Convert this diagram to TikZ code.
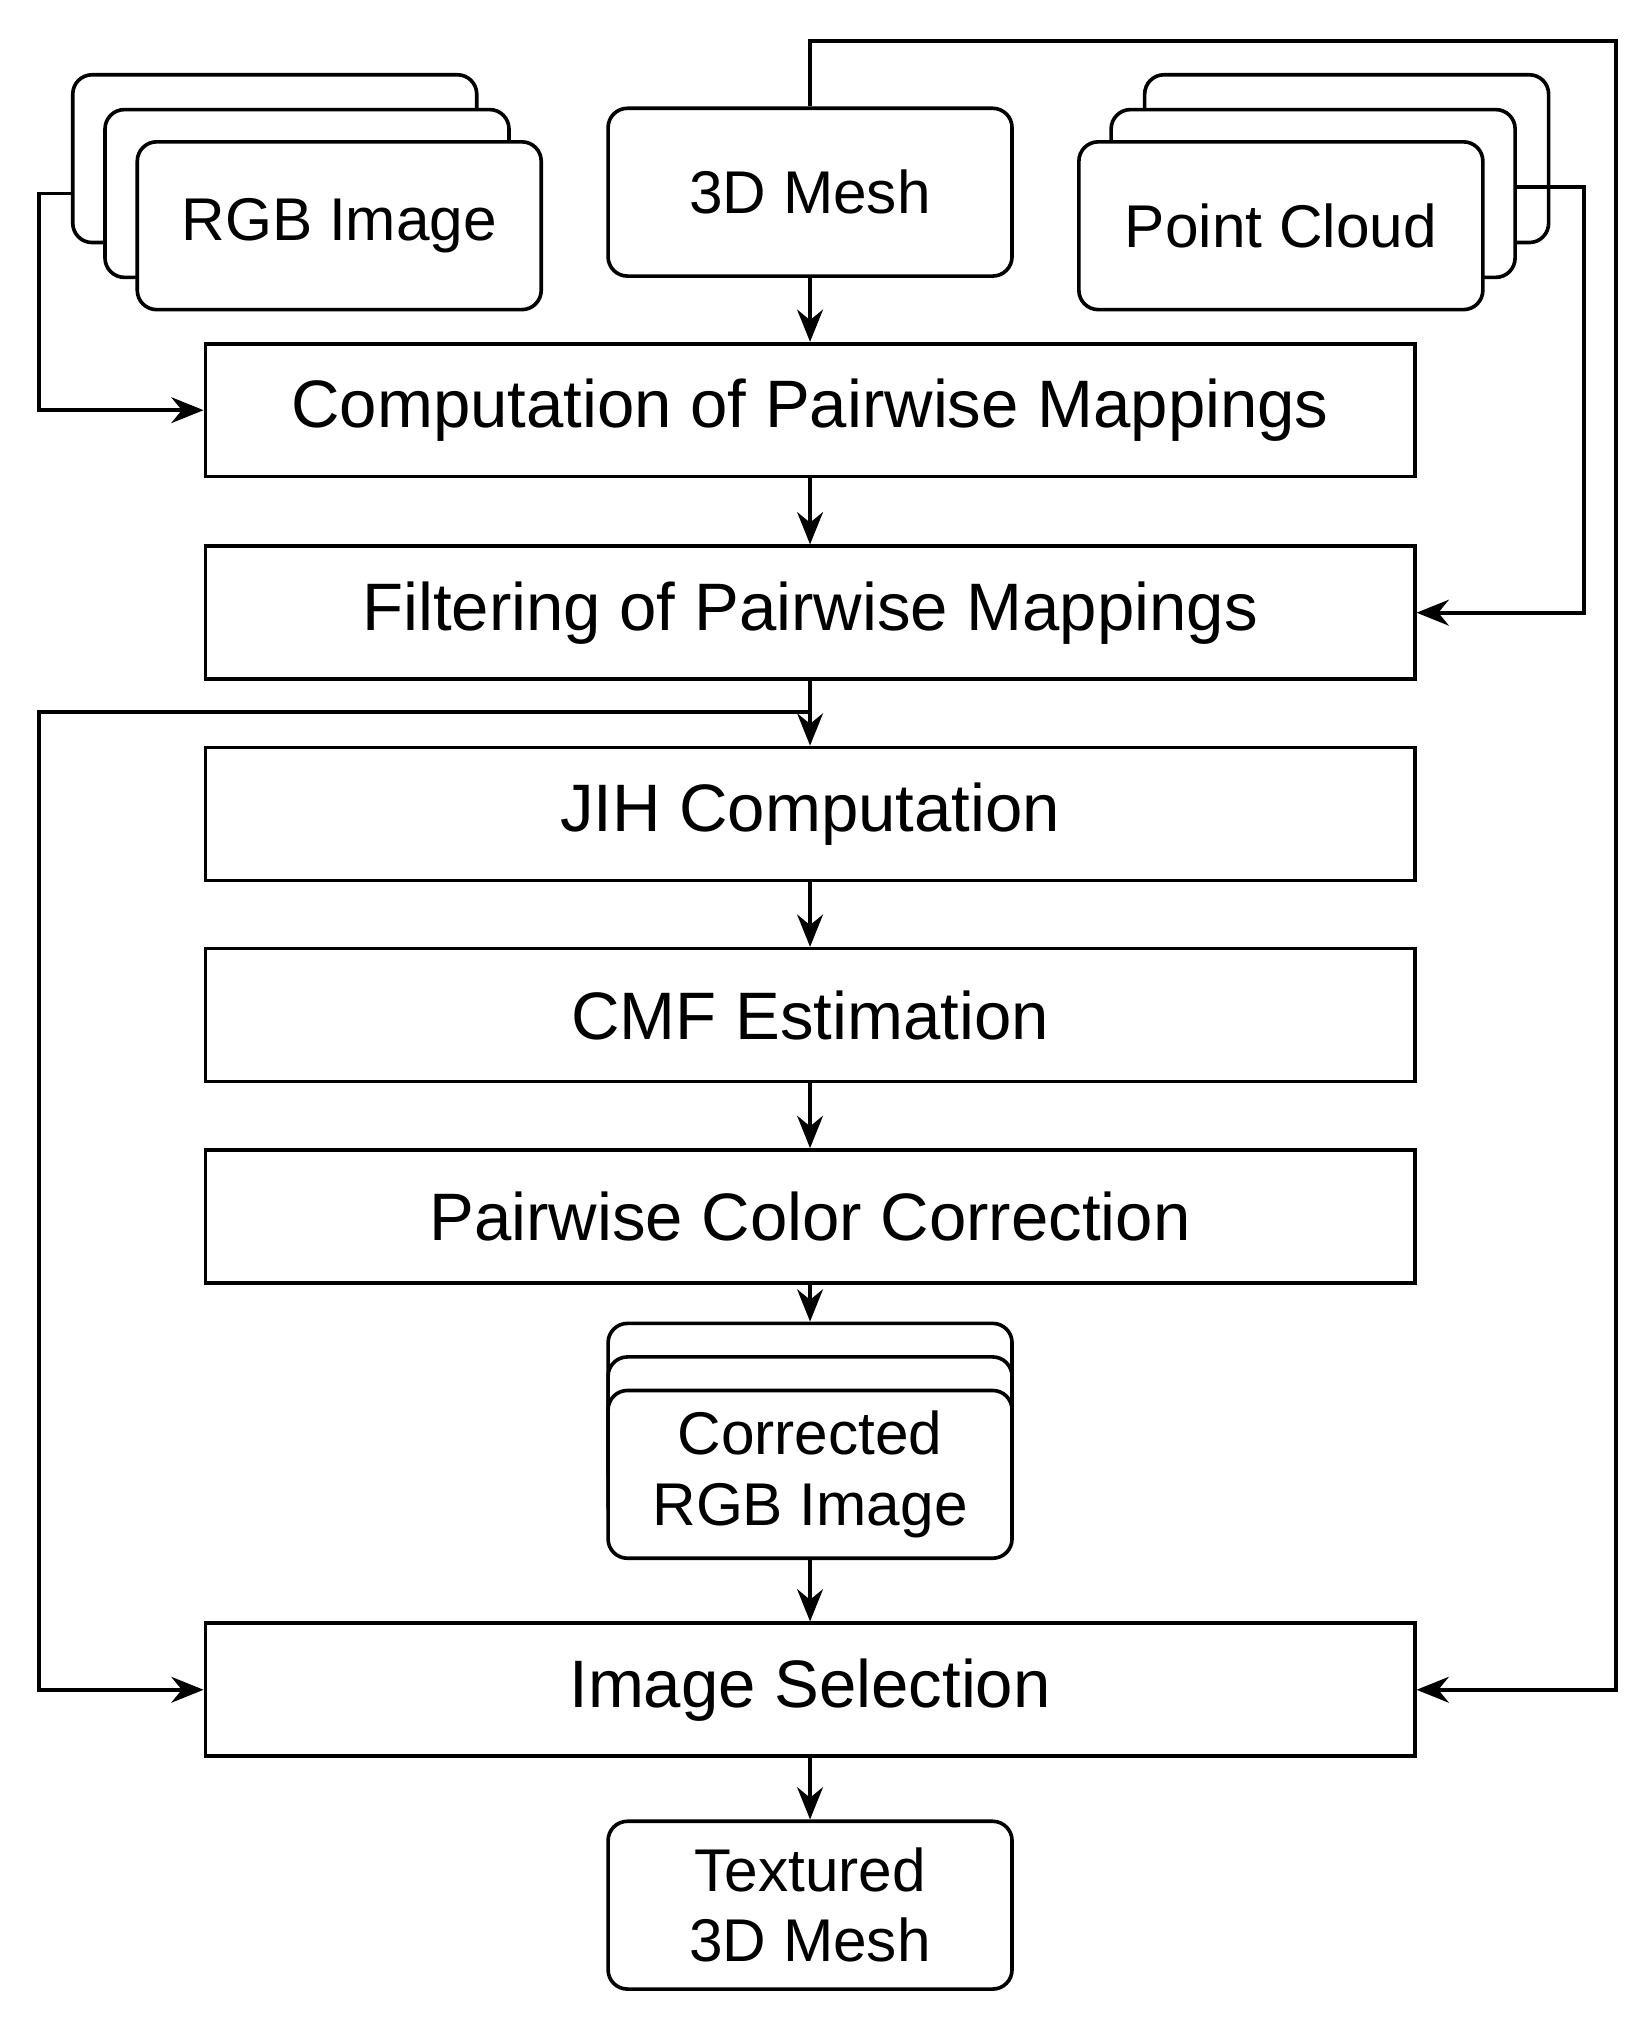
\documentclass[tikz,border=0pt]{standalone}
\usepackage{fontspec}
\setmainfont{Liberation Sans}
\usetikzlibrary{arrows.meta,positioning}

\begin{document}
\begin{tikzpicture}[x=0.01cm, y=-0.01cm,
    stage/.style={draw, thick, minimum width=9.37cm, minimum height=1.03cm, font=\fontsize{14.8}{17}\selectfont},
    doc/.style={draw, thick, fill=white, rounded corners=0.15cm, minimum width=3.13cm, minimum height=1.3cm, align=center, font=\fontsize{13.3}{15.5}\selectfont},
    flow/.style={thick, -{Stealth[length=0.25cm, width=0.2cm]}}]
    \useasboundingbox (0,0) rectangle (1280,1573);

    % inputs
    \node[doc] (rgbC) at (213,123) {};
    \node[doc] (rgbB) at (238,150) {};
    \node[doc] (rgb) at (263,175) {RGB Image};
    \node[doc] (mesh) at (628,149) {3D Mesh};
    \node[doc] (pcC) at (1044,123) {};
    \node[doc] (pcB) at (1018,150) {};
    \node[doc] (pc) at (993,175) {Point Cloud};

    % pipeline
    \node[stage] (comp) at (628,318) {Computation of Pairwise Mappings};
    \node[stage] (filt) at (628,475) {Filtering of Pairwise Mappings};
    \node[stage] (jih) at (628,631) {JIH Computation};
    \node[stage] (cmf) at (628,787) {CMF Estimation};
    \node[stage] (pcc) at (628,943) {Pairwise Color Correction};
    \node[doc] (corC) at (628,1091) {};
    \node[doc] (corB) at (628,1117) {};
    \node[doc] (cor) at (628,1143) {Corrected\\RGB Image};
    \node[stage] (sel) at (628,1310) {Image Selection};
    \node[doc] (tex) at (628,1477) {Textured\\3D Mesh};

    \coordinate (rgbOut) at (57,150);
    \coordinate (pcOut) at (1175,145);
    \coordinate (filtOut) at (628,552);

    \draw[flow] (mesh) -- (comp);
    \draw[flow] (comp) -- (filt);
    \draw[flow] (filt) -- (jih);
    \draw[flow] (jih) -- (cmf);
    \draw[flow] (cmf) -- (pcc);
    \draw[flow] (pcc) -- (corC.north);
    \draw[flow] (cor) -- (sel);
    \draw[flow] (sel) -- (tex);

    \draw[flow] (rgbOut) -- (30,150) |- (comp.west);
    \draw[flow] (pcOut) -- (1228,145) |- (filt.east);
    \draw[flow] (mesh.north) |- (1253,32) |- (sel.east);
    \draw[flow] (filtOut) -| (30,1310) -- (sel.west);
\end{tikzpicture}
\end{document}
